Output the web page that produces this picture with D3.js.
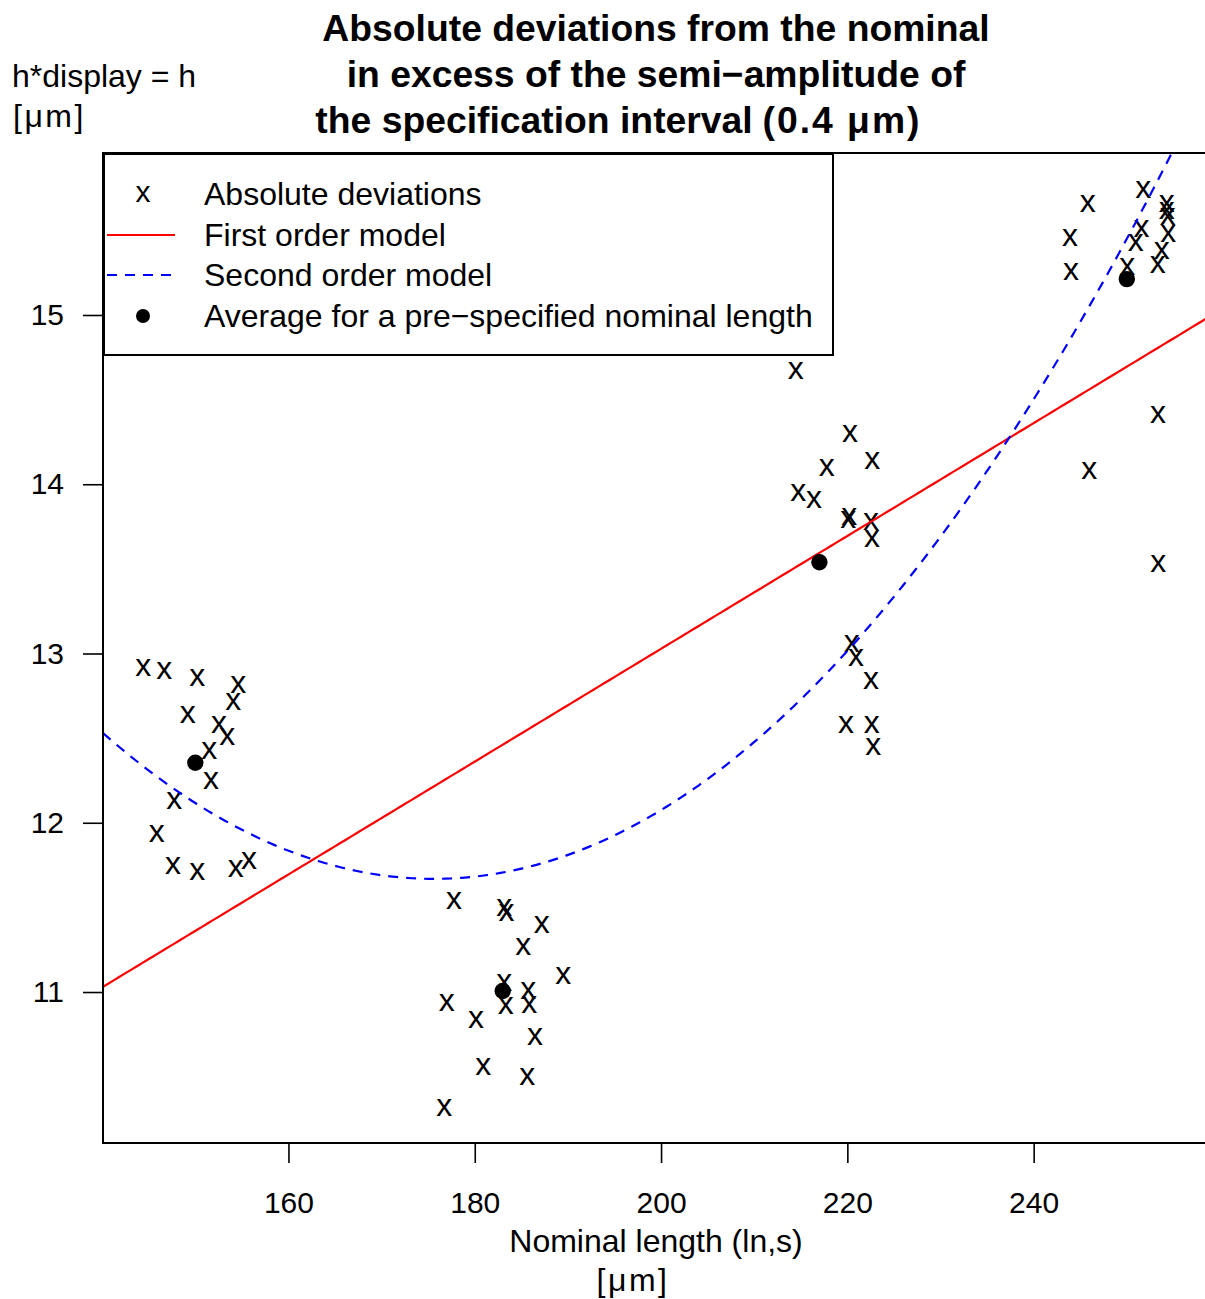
<!DOCTYPE html>
<html>
<head>
<meta charset="utf-8">
<script src="https://cdn.jsdelivr.net/npm/d3@7"></script>
<style>
  html, body { margin: 0; padding: 0; background: #fff; }
  svg { display: block; }
  text { font-family: "Liberation Sans", Arial, Helvetica, sans-serif; fill: #000; }
</style>
</head>
<body>
<script>
// Nominal lengths (µm) at which the gauge blocks were measured
const nominalLengths = [150, 183, 217, 250];

// Measured length (x) and absolute deviation (y) for each nominal group
const lengths150 = [144.41, 146.67, 150.21, 154.61, 154.07, 149.18, 152.54, 153.43, 151.50, 151.68, 147.74, 145.85, 147.60, 150.21, 154.33, 155.76];
const deviations150 = [12.92, 12.90, 12.86, 12.82, 12.72, 12.64, 12.58, 12.51, 12.43, 12.25, 12.13, 11.94, 11.75, 11.71, 11.73, 11.78];

const lengths183 = [177.77, 183.17, 183.42, 187.18, 185.21, 189.50, 183.17, 185.74, 176.98, 183.32, 185.85, 180.13, 186.46, 180.91, 185.64, 176.73];
const deviations183 = [11.54, 11.50, 11.47, 11.40, 11.27, 11.10, 11.06, 11.01, 10.94, 10.92, 10.93, 10.84, 10.74, 10.56, 10.50, 10.32];

const lengths217 = [214.45, 220.28, 222.67, 217.78, 214.73, 216.41, 220.20, 220.10, 222.53, 222.64, 220.46, 220.92, 222.53, 219.85, 222.61, 222.78];
const deviations217 = [14.67, 14.30, 14.14, 14.10, 13.95, 13.91, 13.81, 13.79, 13.78, 13.68, 13.06, 12.98, 12.84, 12.58, 12.58, 12.45];

const lengths250 = [251.77, 245.80, 254.28, 254.28, 254.39, 251.59, 254.45, 243.90, 250.95, 253.74, 253.31, 250.05, 244.01, 253.34, 245.97, 253.37];
const deviations250 = [15.74, 15.66, 15.66, 15.62, 15.58, 15.51, 15.48, 15.46, 15.43, 15.38, 15.30, 15.29, 15.26, 14.41, 14.08, 13.53];

const xTicks = [160, 180, 200, 220, 240];
const yTicks = [11, 12, 13, 14, 15];
const xDomain = [140.09, 258.61];
const yDomain = [10.108, 15.957];

const legendLabels = [
  "Absolute deviations",
  "First order model",
  "Second order model",
  "Average for a pre\u2212specified nominal length"
];

// ---------------------------------------------------------------------------
const W = 1205, H = 1299;
const plot = { left: 103, top: 153, right: 1207, bottom: 1143 };

const groups = [
  { x: lengths150, y: deviations150 },
  { x: lengths183, y: deviations183 },
  { x: lengths217, y: deviations217 },
  { x: lengths250, y: deviations250 }
];
const points = groups.flatMap(g => g.x.map((v, i) => ({ x: v, y: g.y[i] })));
const averages = nominalLengths.map((n, i) => ({ x: n, y: d3.mean(groups[i].y) }));

// Least-squares polynomial fit of the group averages
function polyFit(xs, ys, degree) {
  const n = degree + 1;
  const A = Array.from({ length: n }, () => new Array(n + 1).fill(0));
  xs.forEach((x, k) => {
    for (let r = 0; r < n; r++) {
      for (let c = 0; c < n; c++) A[r][c] += Math.pow(x, r + c);
      A[r][n] += ys[k] * Math.pow(x, r);
    }
  });
  for (let p = 0; p < n; p++) {
    let best = p;
    for (let r = p + 1; r < n; r++) if (Math.abs(A[r][p]) > Math.abs(A[best][p])) best = r;
    [A[p], A[best]] = [A[best], A[p]];
    for (let r = 0; r < n; r++) {
      if (r === p) continue;
      const f = A[r][p] / A[p][p];
      for (let c = p; c <= n; c++) A[r][c] -= f * A[p][c];
    }
  }
  return A.map((row, i) => row[n] / row[i]);
}
const centre = 200; // centring keeps the normal equations well conditioned
const avgX = averages.map(d => d.x - centre);
const avgY = averages.map(d => d.y);
const linCoef = polyFit(avgX, avgY, 1);
const quadCoef = polyFit(avgX, avgY, 2);
const evalPoly = (c, x) => c.reduce((s, a, i) => s + a * Math.pow(x - centre, i), 0);

const x = d3.scaleLinear().domain(xDomain).range([plot.left, plot.right]);
const y = d3.scaleLinear().domain(yDomain).range([plot.bottom, plot.top]);

const svg = d3.select("body").append("svg")
  .attr("width", W).attr("height", H)
  .attr("viewBox", `0 0 ${W} ${H}`);

svg.append("defs").append("clipPath").attr("id", "plot-clip")
  .append("rect")
  .attr("x", plot.left).attr("y", plot.top)
  .attr("width", plot.right - plot.left).attr("height", plot.bottom - plot.top);

// Titles
const title = svg.append("g").attr("font-weight", "bold").attr("font-size", 37.3);
title.append("text").attr("x", 656).attr("y", 41).attr("text-anchor", "middle")
  .text("Absolute deviations from the nominal");
title.append("text").attr("x", 656).attr("y", 87).attr("text-anchor", "middle")
  .text("in excess of the semi\u2212amplitude of");
title.append("text").attr("x", 534).attr("y", 133).attr("text-anchor", "middle")
  .text("the specification interval");
title.append("text").attr("x", 842).attr("y", 133).attr("text-anchor", "middle")
  .attr("letter-spacing", 2).text("(0.4 \u03bcm)");

// Y axis label (upper left)
svg.append("text").attr("x", 12).attr("y", 87).attr("font-size", 32).text("h*display = h");
svg.append("text").attr("x", 13).attr("y", 127).attr("font-size", 32).attr("letter-spacing", 2.5)
  .text("[\u03bcm]");

// Axes
const xAxis = svg.append("g")
  .attr("transform", `translate(0,${plot.bottom})`)
  .call(d3.axisBottom(x).tickValues(xTicks).tickSize(20).tickFormat(d3.format("d")));
xAxis.select(".domain").remove();
xAxis.selectAll(".tick line").attr("stroke", "#000").attr("stroke-width", 1.6);
xAxis.selectAll(".tick text")
  .attr("y", 70).attr("dy", null)
  .attr("font-size", 30).attr("font-family", "Liberation Sans, Arial, sans-serif").attr("fill", "#000");

const yAxis = svg.append("g")
  .attr("transform", `translate(${plot.left},0)`)
  .call(d3.axisLeft(y).tickValues(yTicks).tickSize(20).tickPadding(19).tickFormat(d3.format("d")));
yAxis.select(".domain").remove();
yAxis.selectAll(".tick line").attr("stroke", "#000").attr("stroke-width", 1.6);
yAxis.selectAll(".tick text")
  .attr("font-size", 30).attr("font-family", "Liberation Sans, Arial, sans-serif").attr("fill", "#000");

// X axis label
svg.append("text").attr("x", 656).attr("y", 1252).attr("text-anchor", "middle")
  .attr("font-size", 32).text("Nominal length (ln,s)");
svg.append("text").attr("x", 633).attr("y", 1291).attr("text-anchor", "middle")
  .attr("font-size", 32).attr("letter-spacing", 2.5).text("[\u03bcm]");

// Plot contents
const body = svg.append("g").attr("clip-path", "url(#plot-clip)");

body.selectAll("text.pt").data(points).join("text")
  .attr("class", "pt")
  .attr("x", d => x(d.x)).attr("y", d => y(d.y)).attr("dy", "0.27em")
  .attr("text-anchor", "middle").attr("font-size", 32)
  .text("x");

const lineX = d3.range(0, 201).map(i => xDomain[0] + (xDomain[1] - xDomain[0]) * i / 200);
const line = d3.line().x(d => x(d[0])).y(d => y(d[1]));

body.append("path")
  .datum(lineX.map(v => [v, evalPoly(linCoef, v)]))
  .attr("d", line).attr("fill", "none").attr("stroke", "#ff0000").attr("stroke-width", 2.2);

body.append("path")
  .datum(lineX.map(v => [v, evalPoly(quadCoef, v)]))
  .attr("d", line).attr("fill", "none").attr("stroke", "#0000ff").attr("stroke-width", 2.2)
  .attr("stroke-dasharray", "10,8");

body.selectAll("circle.avg").data(averages).join("circle")
  .attr("class", "avg")
  .attr("cx", d => x(d.x)).attr("cy", d => y(d.y)).attr("r", 8.2).attr("fill", "#000");

// Plot frame (right side lies past the page edge)
svg.append("rect")
  .attr("x", plot.left).attr("y", plot.top)
  .attr("width", plot.right - plot.left).attr("height", plot.bottom - plot.top)
  .attr("fill", "none").attr("stroke", "#000").attr("stroke-width", 2);

// Legend
const legend = svg.append("g");
legend.append("rect")
  .attr("x", 104).attr("y", 154).attr("width", 729).attr("height", 201)
  .attr("fill", "#fff").attr("stroke", "#000").attr("stroke-width", 2);
const rowY = [194, 235, 275, 316];
legend.append("text").attr("x", 143).attr("y", rowY[0]).attr("dy", "0.27em")
  .attr("text-anchor", "middle").attr("font-size", 30).text("x");
legend.append("line").attr("x1", 107).attr("x2", 175).attr("y1", rowY[1]).attr("y2", rowY[1])
  .attr("stroke", "#ff0000").attr("stroke-width", 2.2);
legend.append("line").attr("x1", 107).attr("x2", 175).attr("y1", rowY[2]).attr("y2", rowY[2])
  .attr("stroke", "#0000ff").attr("stroke-width", 2.2).attr("stroke-dasharray", "10,8");
legend.append("circle").attr("cx", 143).attr("cy", rowY[3]).attr("r", 7).attr("fill", "#000");
legend.selectAll("text.lab").data(legendLabels).join("text")
  .attr("class", "lab")
  .attr("x", 204).attr("y", (d, i) => rowY[i] + 11)
  .attr("font-size", 32).text(d => d);
</script>
</body>
</html>
